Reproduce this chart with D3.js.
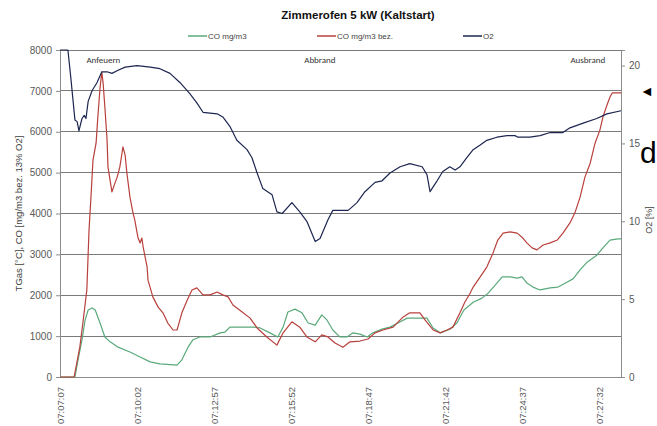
<!DOCTYPE html>
<html><head><meta charset="utf-8">
<script src="https://cdnjs.cloudflare.com/ajax/libs/d3/7.8.5/d3.min.js"></script>
<style>
html,body{margin:0;padding:0;background:#fff;}
svg{display:block;font-family:"Liberation Sans",Arial,sans-serif;}
</style></head>
<body><svg id="chart" width="657" height="426"></svg>
<script>
// ---- data (seconds after 07:07:07) ----
const tickSeconds = [0,175,350,525,700,875,1050,1225];
const startClock = [7,7,7];
const yTicksLeft = [0,1000,2000,3000,4000,5000,6000,7000,8000];
const yTicksRight = [0,5,10,15,20];
const phaseLabels = ["Anfeuern","Abbrand","Ausbrand"];
const phaseTimes = [60,555,1160];

const coTimes = [0,34,41,50,57,64,73,80,91,102,114,132,159,182,205,227,266,277,291,302,318,341,364,375,386,409,439,455,477,495,507,518,534,550,564,580,595,607,620,636,652,666,682,698,711,732,750,768,789,811,834,848,864,886,902,918,939,959,973,989,1005,1023,1039,1050,1061,1075,1091,1114,1132,1152,1166,1182,1198,1220,1234,1250,1268,1275];
const coValues = [0,0,420,910,1390,1640,1690,1640,1320,980,860,730,610,490,370,320,290,420,730,910,980,980,1080,1100,1220,1220,1220,1200,1080,980,1220,1590,1660,1570,1320,1270,1520,1390,1150,980,980,1080,1050,980,1080,1170,1220,1320,1440,1440,1440,1200,1080,1170,1320,1640,1830,1930,2050,2250,2450,2450,2420,2450,2300,2200,2130,2180,2200,2320,2400,2620,2810,2980,3160,3350,3380,3380];

const coBezTimes = [0,32,45,52,61,66,70,75,82,86,91,95,98,102,107,109,118,125,130,136,141,143,148,152,159,166,170,177,182,186,189,198,200,211,223,234,245,257,266,277,289,300,311,325,341,357,370,382,393,414,432,448,470,493,507,527,545,561,580,595,609,625,643,659,682,700,716,734,757,780,795,818,830,848,864,880,893,909,920,932,939,955,970,984,995,1007,1023,1039,1050,1061,1073,1084,1098,1114,1130,1143,1159,1170,1182,1193,1205,1216,1227,1234,1243,1250,1255,1275];
const coBezValues = [0,0,730,1320,2130,3600,4330,5310,5720,6360,7070,7460,7190,6600,5800,5140,4530,4750,4890,5140,5480,5630,5430,4990,4400,4010,3840,3420,3280,3400,3180,2690,2370,1960,1710,1570,1320,1150,1150,1570,1880,2130,2180,2010,2010,2080,2010,1960,1760,1590,1440,1200,980,780,1080,1350,1220,980,860,1030,980,830,730,860,880,930,1080,1150,1220,1470,1570,1570,1390,1150,1080,1150,1220,1570,1830,2050,2200,2450,2690,3030,3350,3520,3550,3520,3420,3280,3160,3110,3230,3280,3350,3520,3770,4010,4400,4890,5230,5720,6040,6360,6650,6850,6950,6950];

const o2Times = [0,18,25,34,39,43,50,55,59,64,73,84,95,107,118,132,148,175,205,227,250,273,295,311,325,357,370,386,402,425,436,448,461,482,493,505,527,545,561,580,591,609,620,641,655,675,693,716,732,750,773,795,823,834,841,857,870,886,898,909,925,939,955,970,993,1016,1034,1041,1068,1091,1114,1143,1159,1189,1220,1243,1275];
const o2Values = [21,21,19.1,16.5,16.4,15.8,16.6,16.8,16.6,17.7,18.4,18.9,19.6,19.6,19.5,19.7,19.9,20.0,19.9,19.8,19.5,18.9,18.2,17.6,17.0,16.9,16.7,16.1,15.2,14.6,14.1,13.1,12.1,11.7,10.6,10.5,11.2,10.6,10.0,8.7,8.9,10.1,10.7,10.7,10.7,11.2,11.9,12.5,12.6,13.1,13.5,13.7,13.5,13.0,11.9,12.6,13.2,13.5,13.3,13.5,14.1,14.6,14.9,15.2,15.4,15.5,15.5,15.4,15.4,15.5,15.7,15.7,16.0,16.3,16.6,16.9,17.1];

const seriesNames = ["CO mg/m3","CO mg/m3 bez.","O2"];
const seriesColors = ["#5aa97c","#b8403c","#1d2650"];

// ---- layout ----
const svg = d3.select("#chart");
const L = 60, R = 621, T = 50, B = 377;
const x = d3.scaleLinear().domain([0,1275]).range([L,R]);
const y = d3.scaleLinear().domain([0,8000]).range([B,T]);
const y2 = d3.scaleLinear().domain([0,21]).range([B,T]);

function clock(s){
  let tot = startClock[0]*3600+startClock[1]*60+startClock[2]+s;
  const h=Math.floor(tot/3600), m=Math.floor(tot%3600/60), sec=tot%60;
  return [h,m,sec].map(v=>String(v).padStart(2,"0")).join(":");
}

// gridlines
svg.append("g").selectAll("line").data(yTicksLeft.filter(d=>d>0)).join("line")
  .attr("x1",L).attr("x2",R).attr("y1",d=>y(d)).attr("y2",d=>y(d))
  .attr("stroke","#7a7a7a").attr("stroke-width",1).attr("shape-rendering","crispEdges");

// axes
const gL = svg.append("g").attr("transform",`translate(${L},0)`)
  .call(d3.axisLeft(y).tickValues(yTicksLeft).tickFormat(d3.format("d")).tickSize(4).tickPadding(4));
const gR = svg.append("g").attr("transform",`translate(${R},0)`)
  .call(d3.axisRight(y2).tickValues(yTicksRight).tickFormat(d3.format("d")).tickSize(4).tickPadding(4));
const gB = svg.append("g").attr("transform",`translate(0,${B})`)
  .call(d3.axisBottom(x).tickValues(tickSeconds).tickSize(0).tickFormat(clock));
[gL,gR,gB].forEach(g=>{
  g.select(".domain").attr("stroke","#8c8c8c").attr("shape-rendering","crispEdges");
  g.selectAll(".tick line").attr("stroke","#8c8c8c");
  g.selectAll("text").attr("fill","#595959").attr("font-family","Liberation Sans, Arial, sans-serif").attr("font-size",10);
});
gB.selectAll(".tick text").attr("transform","rotate(-90)").attr("text-anchor","end")
  .attr("x",-10).attr("y",0).attr("dy","0.32em").attr("font-size",9.5);

// axis titles
svg.append("text").attr("transform",`translate(22,${(T+B)/2}) rotate(-90)`)
  .attr("text-anchor","middle").attr("font-size",9.5).attr("fill","#404040")
  .text("TGas [°C], CO [mg/m3 bez. 13% O2]");
svg.append("text").attr("transform",`translate(652,220) rotate(-90)`)
  .attr("text-anchor","middle").attr("font-size",9).attr("fill","#404040")
  .text("O2 [%]");

// phase labels
svg.append("g").selectAll("text").data(phaseLabels).join("text")
  .attr("x",(d,i)=>x(phaseTimes[i])).attr("y",63)
  .attr("font-family","Carlito, Calibri, Liberation Sans, sans-serif")
  .attr("font-size",9).attr("fill","#333").text(d=>d);

// lines
const mk = (ts,vs,sc)=>d3.line().x((d,i)=>x(ts[i])).y(d=>sc(d))(vs);
const paths = [[coTimes,coValues,y],[coBezTimes,coBezValues,y],[o2Times,o2Values,y2]];
svg.append("g").selectAll("path").data(paths).join("path")
  .attr("d",d=>mk(d[0],d[1],d[2])).attr("fill","none")
  .attr("stroke",(d,i)=>seriesColors[i]).attr("stroke-width",1.2).attr("stroke-linejoin","round");

// title
svg.append("text").attr("x",358).attr("y",19).attr("text-anchor","middle")
  .attr("font-size",11.5).attr("font-weight","bold").attr("fill","#111")
  .text("Zimmerofen 5 kW (Kaltstart)");

// legend
const legX = [188,317,463];
const lg = svg.append("g").selectAll("g").data(seriesNames).join("g")
  .attr("transform",(d,i)=>`translate(${legX[i]},36)`);
lg.append("line").attr("x1",0).attr("x2",19).attr("stroke",(d,i)=>seriesColors[i]).attr("stroke-width",1.5);
lg.append("text").attr("x",20).attr("dy","0.32em").attr("font-size",8).attr("fill","#444").text(d=>d);

// stray marks at right edge of the reference screenshot
svg.append("text").attr("x",640).attr("y",96).attr("font-size",14).attr("fill","#000").text("◄");
svg.append("text").attr("x",640).attr("y",163).attr("font-size",30).attr("font-family","Liberation Sans, Arial, sans-serif").attr("fill","#000").text("d");
</script></body></html>
